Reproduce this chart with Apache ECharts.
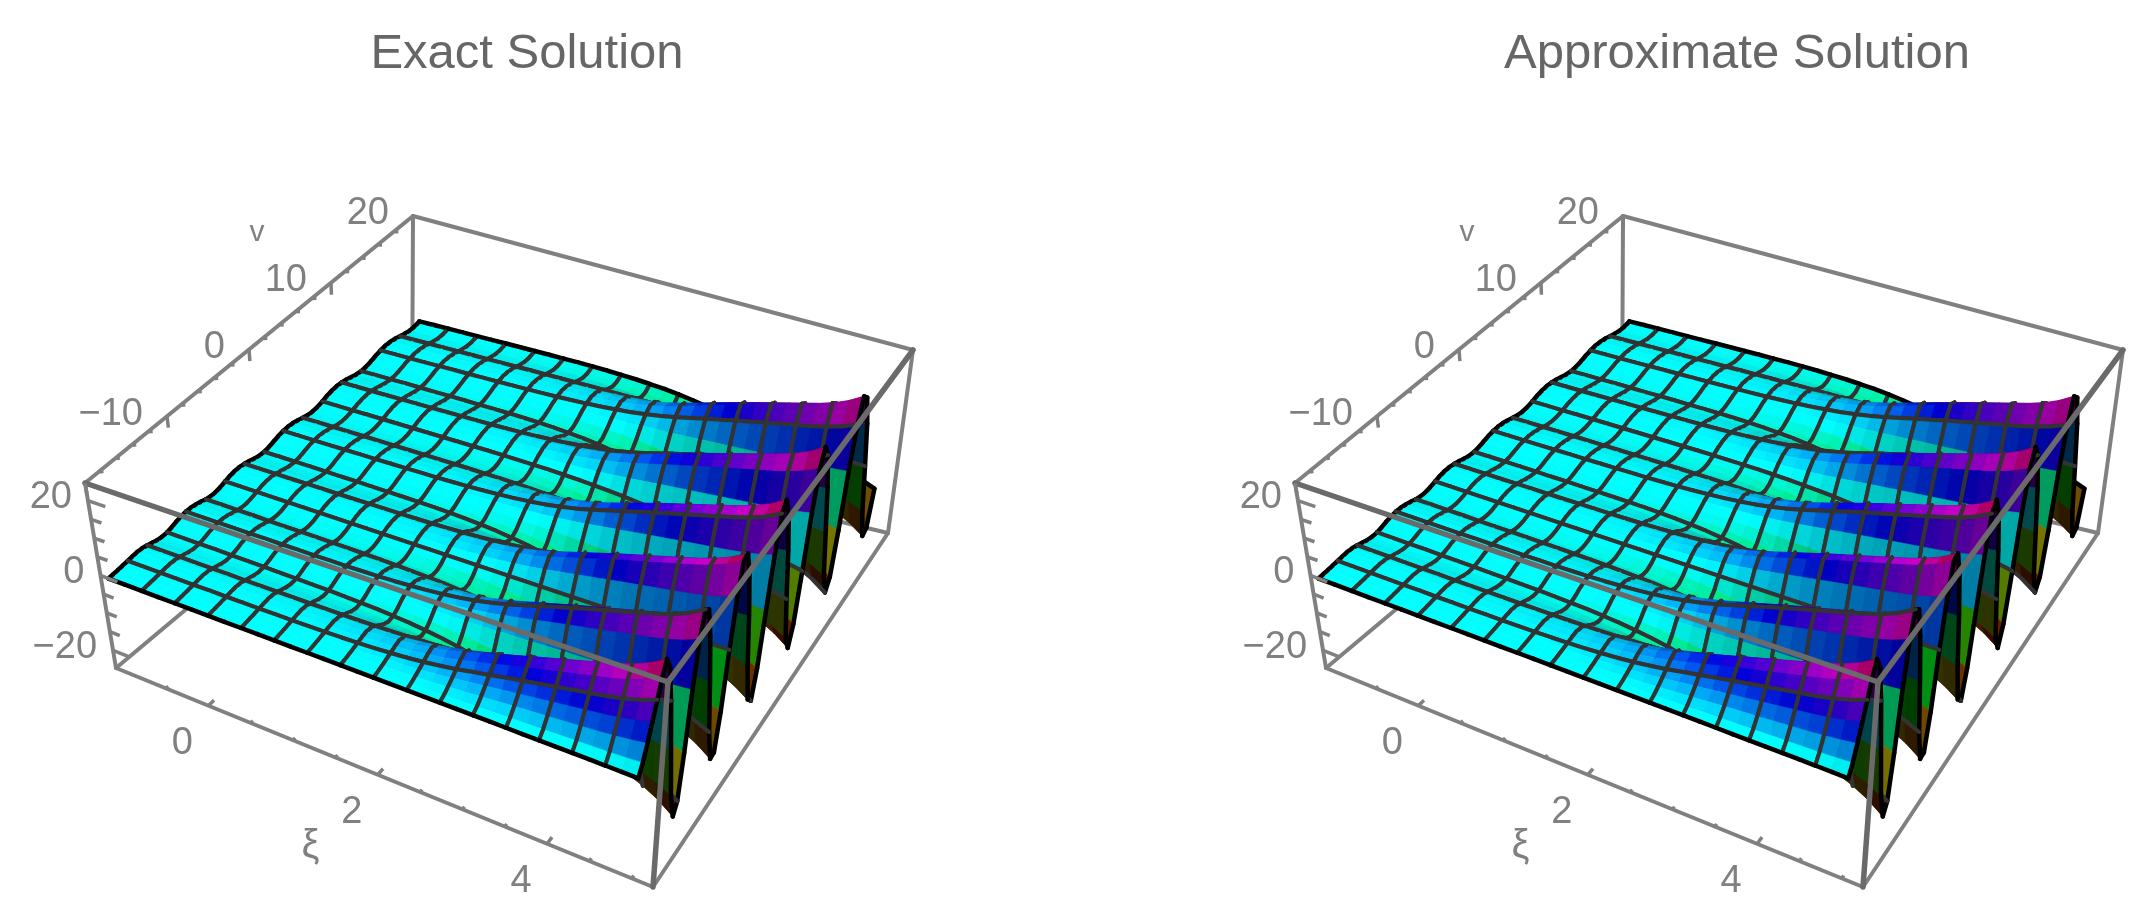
<!DOCTYPE html>
<html><head><meta charset="utf-8">
<style>html,body{margin:0;padding:0;background:#fff}#c{width:2143px;height:913px}</style>
<script src="https://cdn.jsdelivr.net/npm/echarts@6/dist/echarts.min.js"></script>
</head><body><div id="c"></div>
<script>
// ---- values ----
const titles = ["Exact Solution", "Approximate Solution"];
const xiLabels = [0, 2, 4];
const vLabels = [-10, 0, 10, 20];
const zLabels = [-20, 0, 20];
const xiMinorTicks = [-0.5, 0.5, 1, 1.5, 2.5, 3, 3.5, 4.5, 5];
const vMinorTicks = [-18,-16,-14,-12,-8,-6,-4,-2,2,4,6,8,12,14,16,18];
const zMinorTicks = [-15,-10,-5,5,10,15];
// envelope of the waves, for each sampled xi from -1 to 5
const ampExact = [0.7,0.7,0.7,0.7,0.75,0.8,0.8,0.85,0.9,0.95,1,1.1,1.25,1.45,1.75,2.1,2.6,3.2,4,5,6.2,7.6,9,10.4,11.8,13.1,14.4,15.7,17,18.3,19.8,21.8,24.5];
const ampApprox = [0.7,0.7,0.7,0.7,0.75,0.8,0.8,0.85,0.9,0.95,1,1.1,1.25,1.45,1.75,2.1,2.6,3.2,4,5,6.2,7.6,9,10.4,11.8,13.1,14.4,15.7,17,18.3,19.8,21.8,24.5];
// shape of the waves across v, for each sampled v from -20 to 20
const waveProfile = [-0.02,0.08,0.22,0.38,0.55,0.72,0.85,0.72,0.33,-0.21,-0.73,-0.99,-0.89,-0.46,0.12,0.58,0.83,0.78,0.45,-0.06,-0.63,-0.96,-0.95,-0.59,-0.01,0.48,0.8,0.82,0.55,0.07,-0.51,-0.91,-0.98,-0.7,-0.16,0.37,0.75,0.84,0.64,0.2,-0.37,-0.84,-1,-0.8,-0.3,0.26,0.68,0.85,0.71,0.31,-0.23,-0.75,-0.99,-0.88,-0.44,0.14,0.59,0.84,0.77,0.43,-0.09,-0.64,-0.97,-0.94,-0.57];
const xiRange = [-1, 5];
const vRange = [-20, 20];
const boxXi = [-1.09, 5.25], boxV = [-20, 20], boxZ = [-24.7, 24.7];

// ---- layout of the view ----
const W = 2143, H = 913;
const panelDx = [0, 1210];
const corner = { // [u,w,t] -> picture position
  '001':[85,483], '011':[413,216], '111':[913,350], '101':[668,682],
  '000':[116,668],'010':[412,420], '110':[888,533], '100':[653,887]
};
function project(p,u,w,t){
  let x=0,y=0;
  for(const a of [0,1])for(const b of [0,1])for(const c of [0,1]){
    const f=(a?u:1-u)*(b?w:1-w)*(c?t:1-t), q=corner[''+a+b+c];
    x+=f*q[0]; y+=f*q[1];
  }
  return [x+panelDx[p],y];
}
const U=x=>(x-boxXi[0])/(boxXi[1]-boxXi[0]);
const Wv=v=>(v-boxV[0])/(boxV[1]-boxV[0]);
const T=z=>(z-boxZ[0])/(boxZ[1]-boxZ[0]);
const NI=ampExact.length-1, NJ=waveProfile.length-1;
const xiAt=i=>xiRange[0]+(xiRange[1]-xiRange[0])*i/NI;
const vAt=j=>vRange[0]+(vRange[1]-vRange[0])*j/NJ;
const height=(amp,i,j)=>amp[i]*waveProfile[j];

function hsv(h,s,v){
  h=((h%1)+1)%1; const k=n=>{const m=(n+h*6)%6;return v-v*s*Math.max(0,Math.min(m,4-m,1));};
  return 'rgb('+Math.round(k(5)*255)+','+Math.round(k(3)*255)+','+Math.round(k(1)*255)+')';
}
const L=[0.1,-0.35,0.93], LN=Math.hypot(...L);
function quadColor(amp,i,j){
  const z=(height(amp,i,j)+height(amp,i+1,j)+height(amp,i,j+1)+height(amp,i+1,j+1))/4;
  const sc=0.4/(boxZ[1]-boxZ[0]);
  const du=(U(xiAt(i+1))-U(xiAt(i))), dw=(Wv(vAt(j+1))-Wv(vAt(j)));
  const dzu=((height(amp,i+1,j)+height(amp,i+1,j+1)-height(amp,i,j)-height(amp,i,j+1))/2)*sc/du;
  const dzw=((height(amp,i,j+1)+height(amp,i+1,j+1)-height(amp,i,j)-height(amp,i+1,j))/2)*sc/dw;
  const n=[-dzu,-dzw,1], nn=Math.hypot(...n);
  const dot=(n[0]*L[0]+n[1]*L[1]+n[2]*L[2])/(nn*LN);
  let val=Math.min(1,0.3+0.75*Math.max(0,dot));
  val*=1-(z<0?0.55:0.3)*Math.abs(z)/24.7;
  const zh=Math.sign(z)*Math.max(0,Math.abs(z)-0.6);
  return hsv(Math.max(0,Math.min(0.97,0.5+0.5*zh/22)),1,val);
}

function surfaceRender(p,amp){
  return function(params,api){
    const i=api.value(0), j=api.value(1);
    const P=(a,b)=>api.coord(project(p,U(xiAt(a)),Wv(vAt(b)),T(height(amp,a,b))));
    const c=[P(i,j),P(i+1,j),P(i+1,j+1),P(i,j+1)];
    const col=quadColor(amp,i,j);
    const ch=[{type:'polygon',shape:{points:c},style:{fill:col,stroke:col,lineWidth:0.6},silent:true}];
    const seg=(a,b,edge)=>ch.push({type:'line',shape:{x1:a[0],y1:a[1],x2:b[0],y2:b[1]},
      style:{stroke:edge?'#000':'#333',lineWidth:edge?4.5:4,lineCap:'round',fill:null},silent:true});
    if(i%2===0) seg(c[0],c[3],i===0);
    if((i+1)%2===0) seg(c[1],c[2],i+1===NI);
    if(j%4===0) seg(c[0],c[1],j===0);
    if((j+1)%4===0) seg(c[3],c[2],j+1===NJ);
    return {type:'group',children:ch,silent:true};
  };
}
const surfData=[];
for(let j=NJ-1;j>=0;j--)for(let i=0;i<NI;i++)surfData.push([i,j]);

const backEdges=[['000','010'],['010','110'],['010','011'],['001','011'],['011','111'],['110','111'],['000','100'],['100','110'],['000','001']];
const frontEdges=[['001','101'],['101','111'],['101','100']];
function edgeSeries(p,edges,width,color,z){
  return {type:'custom',coordinateSystem:'cartesian2d',silent:true,clip:false,animation:false,z,
    data:edges.map((e,k)=>[k,0]),
    renderItem(params,api){
      const e=edges[api.value(0)], a=corner[e[0]], b=corner[e[1]];
      const A=api.coord([a[0]+panelDx[p],a[1]]), B=api.coord([b[0]+panelDx[p],b[1]]);
      return {type:'line',shape:{x1:A[0],y1:A[1],x2:B[0],y2:B[1]},style:{stroke:color,lineWidth:width,lineCap:'round'}};
    }};
}
function tickSeries(p){
  const t=[];
  vLabels.concat([-20]).forEach(v=>t.push([Wv(v),0,1,'v',0.06]));
  vMinorTicks.forEach(v=>t.push([Wv(v),0,1,'v',0.02]));
  zLabels.forEach(z=>t.push([T(z),0,0,'z',0.03]));
  zMinorTicks.forEach(z=>t.push([T(z),0,0,'z',0.018]));
  xiLabels.forEach(x=>t.push([U(x),0,0,'x',0.02]));
  xiMinorTicks.forEach(x=>t.push([U(x),0,0,'x',0.008]));
  return {type:'custom',coordinateSystem:'cartesian2d',silent:true,clip:false,animation:false,z:6,
    data:t.map((d,k)=>[k,0]),
    renderItem(params,api){
      const d=t[api.value(0)]; let a,b;
      if(d[3]==='v'){a=project(p,0,d[0],1);b=project(p,0,d[0],1-d[4]);}
      else if(d[3]==='z'){a=project(p,0,0,d[0]);b=project(p,d[4],0,d[0]);}
      else {a=project(p,d[0],0,0);b=project(p,d[0],d[4],0);}
      const A=api.coord(a),B=api.coord(b);
      return {type:'line',shape:{x1:A[0],y1:A[1],x2:B[0],y2:B[1]},style:{stroke:'#808080',lineWidth:3.5}};
    }};
}
const FONT='"Liberation Sans", Arial, sans-serif';
function labelSeries(p){
  const mk=(pos,text,dx,dy,align,size,style)=>({value:pos,label:{show:true,formatter:text,position:'inside',align,verticalAlign:'middle',
    offset:[dx,dy],fontSize:size,fontFamily:FONT,fontStyle:style||'normal',color:'#606060'}});
  const neg=s=>String(s).replace('-','\u2212');
  const d=[];
  vLabels.forEach(v=>d.push(mk(project(p,0,Wv(v),1),neg(v),-24,-2,'right',38)));
  zLabels.forEach(z=>d.push(mk(project(p,0,0,T(z)),neg(z),-16,-3,'right',38)));
  xiLabels.forEach(x=>d.push(mk(project(p,U(x),0,0),neg(x),-26,38,'center',38)));
  d.push(mk(project(p,0,Wv(10),1),'v',-74,-50,'center',30));
  d.push(mk(project(p,U(1.3),0,0),'\u03BE',-8,96,'center',40));
  return {type:'scatter',coordinateSystem:'cartesian2d',symbolSize:0,silent:true,clip:false,animation:false,z:7,data:d};
}
function surfaceSeries(p,amp){
  return {type:'custom',coordinateSystem:'cartesian2d',silent:true,clip:false,animation:false,progressive:0,z:4,
    data:surfData,renderItem:surfaceRender(p,amp)};
}
const series=[];
[ampExact,ampApprox].forEach((amp,p)=>{
  series.push(edgeSeries(p,backEdges,4,'#808080',2));
  series.push(surfaceSeries(p,amp));
  series.push(edgeSeries(p,frontEdges,5.5,'#6a6a6a',5));
  series.push(tickSeries(p));
  series.push(labelSeries(p));
});
const chart=echarts.init(document.getElementById('c'),null,{width:W,height:H});
chart.setOption({
  animation:false,backgroundColor:'#fff',
  title:titles.map((t,k)=>({text:t,left:524+panelDx[k]-2,top:49,textAlign:'center',textVerticalAlign:'middle',
    textStyle:{fontFamily:FONT,fontSize:49,fontWeight:'normal',color:'#666'}})),
  grid:{left:0,right:0,top:0,bottom:0},
  xAxis:{type:'value',min:0,max:W,show:false},
  yAxis:{type:'value',min:0,max:H,inverse:true,show:false},
  series
});
</script></body></html>
